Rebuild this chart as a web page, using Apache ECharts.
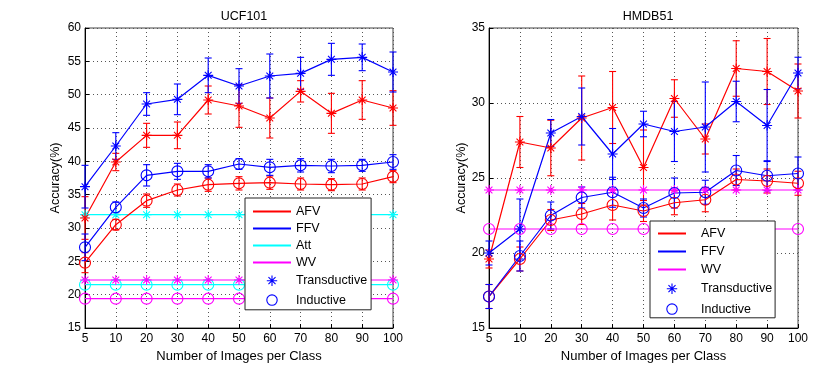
<!DOCTYPE html>
<html>
<head>
<meta charset="utf-8">
<script src="https://cdn.jsdelivr.net/npm/echarts@6/dist/echarts.min.js"></script>
<style>
  html, body { margin: 0; padding: 0; background: #fff; }
  #main { width: 830px; height: 369px; }
</style>
</head>
<body>
<div id="main"></div>
<script>
// x categories shared by both panels
const xLabels = ['5', '10', '20', '30', '40', '50', '60', '70', '80', '90', '100']

// UCF101 (left)
const ucfAfvT = [31.5, 39.9, 43.9, 43.9, 49.2, 48.3, 46.5, 50.5, 47.2, 49.2, 48.0]
const ucfAfvTErr = [3.2, 1.3, 1.8, 2.0, 2.1, 3.2, 3.0, 1.6, 3.0, 2.9, 2.6]
const ucfFfvT = [36.2, 42.3, 48.6, 49.3, 52.9, 51.3, 52.8, 53.2, 55.3, 55.6, 53.4]
const ucfFfvTErr = [3.2, 2.0, 1.7, 2.3, 2.6, 2.6, 3.3, 2.4, 2.4, 2.0, 3.0]
const ucfAfvI = [24.8, 30.5, 34.1, 35.7, 36.5, 36.7, 36.8, 36.6, 36.5, 36.6, 37.7]
const ucfAfvIErr = [1.5, 0.8, 1.0, 0.9, 1.0, 1.0, 1.0, 0.9, 0.9, 0.9, 0.9]
const ucfFfvI = [27.1, 33.1, 37.9, 38.5, 38.5, 39.6, 39.1, 39.4, 39.3, 39.4, 39.9]
const ucfFfvIErr = [2.0, 0.8, 1.6, 1.2, 1.0, 0.8, 1.2, 1.0, 1.0, 0.9, 1.1]
const ucfAttT = [32, 32, 32, 32, 32, 32, 32, 32, 32, 32, 32]
const ucfAttI = [21.5, 21.5, 21.5, 21.5, 21.5, 21.5, 21.5, 21.5, 21.5, 21.5, 21.5]
const ucfWvT = [22.2, 22.2, 22.2, 22.2, 22.2, 22.2, 22.2, 22.2, 22.2, 22.2, 22.2]
const ucfWvI = [19.4, 19.4, 19.4, 19.4, 19.4, 19.4, 19.4, 19.4, 19.4, 19.4, 19.4]

// HMDB51 (right)
const hmAfvT = [19.6, 27.4, 27.0, 29.0, 29.7, 25.7, 30.3, 27.6, 32.3, 32.1, 30.8]
const hmAfvTErr = [0.6, 1.7, 1.85, 2.8, 2.4, 2.5, 1.25, 1.0, 1.85, 2.2, 1.8]
const hmFfvT = [20.0, 21.6, 28.0, 29.1, 26.6, 28.6, 28.1, 28.4, 30.1, 28.5, 32.0]
const hmFfvTErr = [0.8, 2.0, 0.9, 1.9, 1.7, 0.85, 2.0, 3.0, 1.35, 2.4, 1.05]
const hmAfvI = [17.1, 19.6, 22.2, 22.6, 23.2, 22.8, 23.35, 23.55, 24.9, 24.8, 24.65]
const hmAfvIErr = [0.8, 0.8, 0.7, 0.7, 1.0, 0.7, 0.8, 0.8, 0.7, 0.8, 0.8]
const hmFfvI = [17.1, 19.8, 22.5, 23.7, 24.05, 23.0, 24.0, 24.05, 25.5, 25.15, 25.3]
const hmFfvIErr = [0.8, 1.0, 0.9, 0.7, 1.0, 0.6, 1.0, 0.8, 1.0, 1.0, 1.1]
const hmWvT = [24.2, 24.2, 24.2, 24.2, 24.2, 24.2, 24.2, 24.2, 24.2, 24.2, 24.2]
const hmWvI = [21.6, 21.6, 21.6, 21.6, 21.6, 21.6, 21.6, 21.6, 21.6, 21.6, 21.6]

const RED = '#ff0000'
const BLUE = '#0000ff'
const CYAN = '#00ffff'
const MAGENTA = '#ff00ff'
const FONT = 'Liberation Sans, Arial, sans-serif'
const STAR = 'path://M5,0L5,10M0,5L10,5M1.6,1.6L8.4,8.4M1.6,8.4L8.4,1.6'

function lineSeries(gi, values, color, symbol) {
  return {
    type: 'line', xAxisIndex: gi, yAxisIndex: gi, data: values, silent: true,
    symbol: symbol, symbolSize: symbol === STAR ? 10 : 11,
    lineStyle: { color: color, width: 1.2 },
    itemStyle: { color: 'none', borderColor: color, borderWidth: 1.1 },
    z: 3
  }
}

function errSeries(gi, values, errs, color) {
  return {
    type: 'custom', xAxisIndex: gi, yAxisIndex: gi, silent: true, z: 2,
    data: values.map((v, i) => [i, v - errs[i], v + errs[i]]),
    encode: { x: 0, y: [1, 2] },
    renderItem: (params, api) => {
      let top = api.coord([api.value(0), api.value(2)])
      let bot = api.coord([api.value(0), api.value(1)])
      let w = 3.5
      let st = { stroke: color, lineWidth: 1.1 }
      return {
        type: 'group',
        children: [
          { type: 'line', shape: { x1: top[0], y1: top[1], x2: bot[0], y2: bot[1] }, style: st },
          { type: 'line', shape: { x1: top[0] - w, y1: top[1], x2: top[0] + w, y2: top[1] }, style: st },
          { type: 'line', shape: { x1: bot[0] - w, y1: bot[1], x2: bot[0] + w, y2: bot[1] }, style: st }
        ]
      }
    }
  }
}

// empty series only used for the legend entries
function legendLine(name, color) {
  return { type: 'line', name: name, data: [], symbol: 'circle', lineStyle: { color: color, width: 1.2 }, itemStyle: { color: color } }
}
function legendMark(name, symbol) {
  return { type: 'line', name: name, data: [], symbol: symbol, lineStyle: { color: BLUE, width: 0, opacity: 0 }, itemStyle: { color: 'none', borderColor: BLUE, borderWidth: 1.1 } }
}
const lineItem = name => ({ name: name, itemStyle: { opacity: 0 } })
const markItem = name => ({ name: name, lineStyle: { opacity: 0, width: 0 }, itemStyle: { color: 'none', borderColor: BLUE, borderWidth: 1.1 } })

function xAxis(gi) {
  return {
    gridIndex: gi, type: 'category', data: xLabels, boundaryGap: false,
    name: 'Number of Images per Class', nameLocation: 'middle', nameGap: 17,
    nameTextStyle: { fontSize: 13, color: '#000', fontFamily: FONT },
    axisLine: { lineStyle: { color: '#000', width: 1 } },
    axisTick: { inside: true, length: 4, lineStyle: { color: '#000' } },
    axisLabel: { fontSize: 12, color: '#000', margin: 5, fontFamily: FONT },
    splitLine: { show: true, lineStyle: { color: '#555', type: [1, 3], width: 1 } }
  }
}
function yAxis(gi, min, max, gap) {
  return {
    gridIndex: gi, type: 'value', min: min, max: max, interval: 5,
    name: 'Accuracy(%)', nameLocation: 'middle', nameGap: gap,
    nameTextStyle: { fontSize: 12.5, color: '#000', fontFamily: FONT },
    axisLine: { show: true, lineStyle: { color: '#000', width: 1 } },
    axisTick: { show: true, inside: true, length: 4, lineStyle: { color: '#000' } },
    axisLabel: { fontSize: 12, color: '#000', margin: 4, fontFamily: FONT },
    splitLine: { show: true, lineStyle: { color: '#555', type: [1, 3], width: 1 } }
  }
}

const legendBase = {
  orient: 'vertical', selectedMode: false, backgroundColor: '#fff',
  borderColor: '#222', borderWidth: 1, itemHeight: 13,
  textStyle: { fontSize: 12.5, color: '#000', fontFamily: FONT }
}

let myChart = echarts.init(document.getElementById('main'), null, { renderer: 'canvas' })
myChart.setOption({
  animation: false,
  backgroundColor: '#fff',
  title: [
    { text: 'UCF101', left: 239, top: 5, textAlign: 'center', textStyle: { fontSize: 12.5, fontWeight: 'normal', color: '#000', fontFamily: FONT } },
    { text: 'HMDB51', left: 643, top: 5, textAlign: 'center', textStyle: { fontSize: 12.5, fontWeight: 'normal', color: '#000', fontFamily: FONT } }
  ],
  grid: [
    { left: 85, right: 437, top: 28, bottom: 41, show: true, borderColor: '#444', borderWidth: 1 },
    { left: 489, right: 32, top: 28, bottom: 41, show: true, borderColor: '#444', borderWidth: 1 }
  ],
  xAxis: [xAxis(0), xAxis(1)],
  yAxis: [yAxis(0, 15, 60, 23), yAxis(1, 15, 35, 12)],
  legend: [
    Object.assign({}, legendBase, {
      left: 245, top: 198, padding: [7, 4, 2, 7], itemWidth: 38, itemGap: 4,
      data: [lineItem('AFV'), lineItem('FFV'), lineItem('Att'), lineItem('WV'), markItem('Transductive'), markItem('Inductive')]
    }),
    Object.assign({}, legendBase, {
      left: 650, top: 221, padding: [6, 3, 1, 7], itemWidth: 28, itemGap: 5,
      textStyle: Object.assign({}, legendBase.textStyle, { padding: [0, 0, 0, 10] }),
      data: [lineItem('AFV'), lineItem('FFV'), lineItem('WV'), markItem('Transductive'), markItem('Inductive')]
    })
  ],
  series: [
    legendLine('AFV', RED), legendLine('FFV', BLUE), legendLine('Att', CYAN), legendLine('WV', MAGENTA),
    legendMark('Transductive', STAR), legendMark('Inductive', 'circle'),

    lineSeries(0, ucfAttT, CYAN, STAR), lineSeries(0, ucfAttI, CYAN, 'circle'),
    lineSeries(0, ucfWvT, MAGENTA, STAR), lineSeries(0, ucfWvI, MAGENTA, 'circle'),
    errSeries(0, ucfAfvT, ucfAfvTErr, RED), lineSeries(0, ucfAfvT, RED, STAR),
    errSeries(0, ucfAfvI, ucfAfvIErr, RED), lineSeries(0, ucfAfvI, RED, 'circle'),
    errSeries(0, ucfFfvT, ucfFfvTErr, BLUE), lineSeries(0, ucfFfvT, BLUE, STAR),
    errSeries(0, ucfFfvI, ucfFfvIErr, BLUE), lineSeries(0, ucfFfvI, BLUE, 'circle'),

    lineSeries(1, hmWvT, MAGENTA, STAR), lineSeries(1, hmWvI, MAGENTA, 'circle'),
    errSeries(1, hmAfvT, hmAfvTErr, RED), lineSeries(1, hmAfvT, RED, STAR),
    errSeries(1, hmAfvI, hmAfvIErr, RED), lineSeries(1, hmAfvI, RED, 'circle'),
    errSeries(1, hmFfvT, hmFfvTErr, BLUE), lineSeries(1, hmFfvT, BLUE, STAR),
    errSeries(1, hmFfvI, hmFfvIErr, BLUE), lineSeries(1, hmFfvI, BLUE, 'circle')
  ]
})
</script>
</body>
</html>
